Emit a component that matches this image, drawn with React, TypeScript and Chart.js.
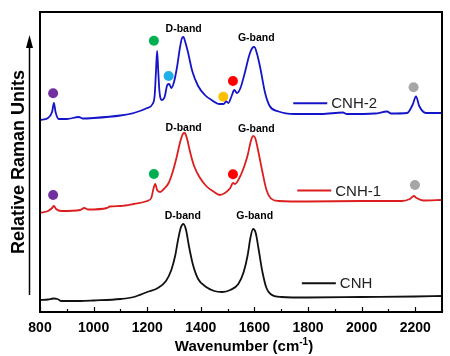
import React, { useEffect, useRef } from "react";
import { Chart, registerables } from "chart.js";
Chart.register(...registerables);

// ---- data (wavenumber in cm^-1, intensity in arbitrary stacked units) ----
const cnhWn = [800, 830, 850, 865, 880, 950, 1000, 1100, 1150, 1200, 1240, 1270, 1290, 1305, 1315, 1325, 1335, 1345, 1355, 1370, 1390, 1420, 1450, 1480, 1510, 1540, 1560, 1575, 1585, 1595, 1605, 1615, 1630, 1645, 1660, 1700, 1800, 2000, 2200, 2300];
const cnhVal = [12, 12.5, 13.5, 13, 11, 11, 11.5, 13, 15, 20, 24, 31, 42, 57, 72, 84, 88, 82, 67, 48, 33, 25, 21, 20, 22, 28, 40, 57, 74, 83, 79, 64, 40, 24, 18, 15, 14.5, 15, 15.5, 16];

const cnh1Wn = [800, 830, 845, 852, 860, 880, 950, 965, 980, 1050, 1060, 1100, 1150, 1200, 1215, 1225, 1230, 1237, 1248, 1262, 1280, 1295, 1310, 1322, 1333, 1340, 1348, 1360, 1375, 1395, 1420, 1450, 1470, 1490, 1510, 1520, 1528, 1540, 1560, 1575, 1585, 1595, 1603, 1615, 1630, 1645, 1660, 1690, 1800, 2000, 2150, 2180, 2195, 2205, 2230, 2300];
const cnh1Val = [99, 101, 104, 106, 103, 101, 102, 104, 102.5, 104, 105.5, 106, 108, 111, 114, 125, 128, 122, 120, 123, 129, 140, 155, 169, 178, 179, 174, 160, 146, 135, 126, 120, 117, 119, 124, 129, 128, 132, 144, 157, 169, 176, 174, 160, 140, 122, 114, 111, 110.5, 111, 111, 113, 116, 114, 111.5, 112];

const cnh2Wn = [800, 830, 845, 852, 858, 870, 900, 945, 960, 1000, 1100, 1150, 1200, 1220, 1228, 1233, 1237, 1241, 1246, 1255, 1265, 1275, 1282, 1290, 1300, 1312, 1322, 1330, 1335, 1342, 1352, 1368, 1390, 1415, 1440, 1470, 1485, 1495, 1503, 1515, 1525, 1535, 1548, 1565, 1580, 1592, 1600, 1610, 1622, 1640, 1657, 1690, 1750, 1850, 1930, 1945, 2050, 2095, 2110, 2170, 2190, 2203, 2215, 2240, 2300];
const cnh2Val = [192, 194, 200, 209, 200, 193, 193, 195, 193.5, 194, 196.5, 199, 204, 208, 217, 242, 261, 242, 220, 212, 215, 227, 228, 224, 230, 246, 264, 274, 275, 270, 260, 241, 226, 217, 212, 208, 208, 210.5, 209, 216, 222, 219, 224, 240, 256, 264, 265, 258, 244, 219, 206, 200.5, 198, 198, 199.5, 198, 198.5, 200.5, 198.5, 199, 207, 215.5, 206, 199, 199];

// marker dots (wavenumber, height, colour)
const dotWn = [849, 1225, 1280, 1484, 1520, 2194, 849, 1225, 1520, 2199];
const dotVal = [218.7, 271.3, 236, 215.3, 231, 224.7, 117, 138, 137.7, 127];
const dotColors = ["#7030a0", "#00b050", "#1eaee8", "#ffc000", "#ff0000", "#a6a6a6", "#7030a0", "#00b050", "#ff0000", "#a6a6a6"];

// band labels
const bandText = ["D-band", "G-band", "D-band", "G-band", "D-band", "G-band"];
const bandWn = [1336, 1607, 1336, 1607, 1333, 1601];
const bandVal = [282.8, 274.3, 183.7, 182.7, 96.3, 96];

// series names, colours, legend anchor (start of legend line)
const seriesNames = ["CNH-2", "CNH-1", "CNH"];
const seriesColors = ["#1414c8", "#dc1e1e", "#111111"];
const legendWn = [1745, 1760, 1777];
const legendVal = [208.7, 121.5, 28.8];

const xMin = 800;
const xMax = 2300;
const xTickLabels = [800, 1000, 1200, 1400, 1600, 1800, 2000, 2200];

const FONT = "'Liberation Sans', Arial, sans-serif";

const decorPlugin = {
  id: "decor",
  afterDatasetsDraw(chart: any) {
    const ctx = chart.ctx;
    const { left, right, top, bottom } = chart.chartArea;
    const xs = chart.scales.x;
    const ys = chart.scales.y;
    ctx.save();
    // frame
    ctx.strokeStyle = "#000";
    ctx.lineWidth = 2;
    ctx.strokeRect(left, top, right - left, bottom - top);
    // ticks inward on bottom axis
    ctx.lineWidth = 1.2;
    for (let v = xMin; v <= xMax; v += 100) {
      const px = Math.round(xs.getPixelForValue(v)) + 0.5;
      const len = xTickLabels.includes(v) ? 5 : 3;
      ctx.beginPath();
      ctx.moveTo(px, bottom);
      ctx.lineTo(px, bottom - len);
      ctx.stroke();
    }
    // y arrow
    ctx.lineWidth = 1.5;
    ctx.beginPath();
    ctx.moveTo(29.5, 295);
    ctx.lineTo(29.5, 44);
    ctx.stroke();
    ctx.fillStyle = "#000";
    ctx.beginPath();
    ctx.moveTo(29.5, 35);
    ctx.lineTo(26, 48);
    ctx.lineTo(33, 48);
    ctx.closePath();
    ctx.fill();
    // y title
    ctx.save();
    ctx.translate(23.5, 162);
    ctx.rotate(-Math.PI / 2);
    ctx.font = `bold 18px ${FONT}`;
    ctx.textAlign = "center";
    ctx.textBaseline = "alphabetic";
    ctx.fillText("Relative Raman Units", 0, 0);
    ctx.restore();
    // x title with superscript
    ctx.font = `bold 15px ${FONT}`;
    const a = "Wavenumber (cm";
    const sup = "-1";
    const c = ")";
    const wa = ctx.measureText(a).width;
    const wc = ctx.measureText(c).width;
    ctx.font = `bold 10px ${FONT}`;
    const ws = ctx.measureText(sup).width;
    const total = wa + ws + wc;
    let x0 = 244 - total / 2;
    const base = 351;
    ctx.textAlign = "left";
    ctx.textBaseline = "alphabetic";
    ctx.font = `bold 15px ${FONT}`;
    ctx.fillText(a, x0, base);
    ctx.font = `bold 10px ${FONT}`;
    ctx.fillText(sup, x0 + wa, base - 6);
    ctx.font = `bold 15px ${FONT}`;
    ctx.fillText(c, x0 + wa + ws, base);
    // band labels
    ctx.font = `bold 10.5px ${FONT}`;
    ctx.textAlign = "center";
    ctx.textBaseline = "middle";
    for (let i = 0; i < bandText.length; i++) {
      ctx.fillText(bandText[i], xs.getPixelForValue(bandWn[i]), ys.getPixelForValue(bandVal[i]));
    }
    // in-plot legend
    ctx.font = `15px ${FONT}`;
    ctx.textAlign = "left";
    for (let i = 0; i < seriesNames.length; i++) {
      const lx = xs.getPixelForValue(legendWn[i]);
      const ly = ys.getPixelForValue(legendVal[i]);
      ctx.strokeStyle = seriesColors[i];
      ctx.lineWidth = 2;
      ctx.beginPath();
      ctx.moveTo(lx, ly);
      ctx.lineTo(lx + 34, ly);
      ctx.stroke();
      ctx.fillStyle = "#222";
      ctx.fillText(seriesNames[i], lx + 38, ly + 1);
    }
    ctx.restore();
  },
};

export default function App() {
  const ref = useRef<HTMLCanvasElement | null>(null);
  useEffect(() => {
    const toXY = (w: number[], v: number[]) => w.map((x, i) => ({ x, y: v[i] }));
    const chart = new Chart(ref.current as HTMLCanvasElement, {
      type: "line",
      data: {
        datasets: [
          { label: seriesNames[0], data: toXY(cnh2Wn, cnh2Val), borderColor: seriesColors[0], borderWidth: 1.8, pointRadius: 0, cubicInterpolationMode: "monotone" },
          { label: seriesNames[1], data: toXY(cnh1Wn, cnh1Val), borderColor: seriesColors[1], borderWidth: 1.8, pointRadius: 0, cubicInterpolationMode: "monotone" },
          { label: seriesNames[2], data: toXY(cnhWn, cnhVal), borderColor: seriesColors[2], borderWidth: 1.8, pointRadius: 0, cubicInterpolationMode: "monotone" },
          {
            type: "scatter",
            label: "markers",
            data: toXY(dotWn, dotVal),
            showLine: false,
            pointRadius: 5,
            pointBorderWidth: 0,
            pointBackgroundColor: dotColors,
            pointBorderColor: dotColors,
          } as any,
        ],
      },
      options: {
        animation: false,
        responsive: false,
        devicePixelRatio: 1,
        layout: { padding: { top: 12, right: 1, left: 0, bottom: 0 } },
        plugins: { legend: { display: false }, tooltip: { enabled: false } },
        scales: {
          x: {
            type: "linear",
            min: xMin,
            max: xMax,
            grid: { display: false, drawTicks: false },
            border: { display: false },
            ticks: {
              stepSize: 100,
              autoSkip: false,
              maxRotation: 0,
              padding: 8,
              color: "#000",
              font: { family: FONT, size: 14, weight: "bold" },
              callback: (v: any) => (xTickLabels.includes(Number(v)) ? String(v) : ""),
            },
            afterFit: (s: any) => {
              s.height = 44;
            },
          },
          y: {
            min: 0,
            max: 300,
            grid: { display: false, drawTicks: false },
            border: { display: false },
            ticks: { display: false },
            afterFit: (s: any) => {
              s.width = 40;
            },
          },
        },
      },
      plugins: [decorPlugin],
    });
    return () => chart.destroy();
  }, []);
  return (
    <div style={{ position: "fixed", left: 0, top: 0, width: 450, height: 356, background: "#fff" }}>
      <canvas ref={ref} width={450} height={356} style={{ display: "block" }} />
    </div>
  );
}
